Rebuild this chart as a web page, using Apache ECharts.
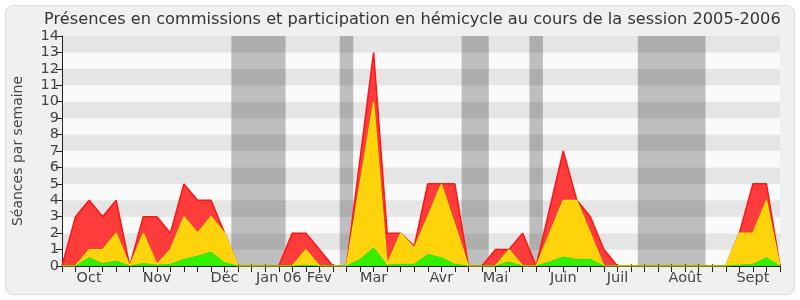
<!DOCTYPE html>
<html><head><meta charset="utf-8">
<script src="https://cdn.jsdelivr.net/npm/echarts@6/dist/echarts.min.js"></script>
<style>
html,body{margin:0;padding:0;background:#fff;}
#frame{position:absolute;left:5px;top:5px;width:788px;height:288px;background:#f0f0f0;border:1px solid #dcdcdc;border-radius:8px;}
#chart{position:absolute;left:0;top:0;width:800px;height:300px;}
</style>
</head><body><div id="frame"></div><div id="chart"></div>
<script>
// week index 0..53 (session 2005-2006)
const weekCount = 54;
const totalSeances = [0,3,4,3,4,0,3,3,2,5,4,4,2,0,0,0,0,2,2,1,0,0,6.5,13,2,2,1.2,5,5,5,0,0,1,1,2,0,3.5,7,4,3,1,0,0,0,0,0,0,0,0,0,2,5,5,0];
const hemicycle    = [0,0,1,1,2,0,2,0.1,1,3,2,3,2,0,0,0,0,0,1,0,0,0,5,10,0.1,2,1.1,3,5,2.5,0,0,0,1,0,0,2,4,4,2,0,0,0,0,0,0,0,0,0,0,2,2,4,0];
const commissions  = [0,0,0.5,0.15,0.3,0,0.15,0.05,0.1,0.4,0.6,0.85,0.2,0,0,0,0,0,0.05,0,0,0,0.4,1.1,0.05,0.1,0.1,0.7,0.5,0.1,0,0,0,0.25,0,0,0.25,0.55,0.4,0.4,0,0,0,0,0,0,0,0,0,0,0.05,0.1,0.5,0];
const tickWeeks  = [2,7,12,16,19,23,28,32,37,41,46,51];
const tickLabels = ['Oct','Nov','Déc','Jan 06','Fév','Mar','Avr','Mai','Juin','Juil','Août','Sept'];
const holidayStart = [12.5,20.5,29.5,34.5,42.5];
const holidayEnd   = [16.5,21.5,31.5,35.5,47.5];

const toPairs = arr => arr.map((v,i)=>[i,v]);
const font = 'DejaVu Sans';
const chart = echarts.init(document.getElementById('chart'));
chart.setOption({
  animation:false,
  textStyle:{fontFamily:font},
  title:{text:'Présences en commissions et participation en hémicycle au cours de la session 2005-2006',
    left:39, top:7, textStyle:{fontFamily:font,fontSize:16.2,fontWeight:'normal',color:'#333'}},
  grid:{left:62,right:20,top:36,bottom:34,containLabel:false,outerBoundsMode:'none'},
  xAxis:[{type:'value',min:0,max:weekCount-1,interval:1,
    axisLine:{show:true,onZero:false,lineStyle:{color:'#222'}},
    axisTick:{show:true,length:6,lineStyle:{color:'#222'}},
    splitLine:{show:false},
    axisLabel:{fontFamily:font,fontSize:14.5,color:'#444',margin:5,
      formatter:v=>{const k=tickWeeks.indexOf(v);return k>=0?tickLabels[k]:'';}}
  },{type:'value',min:0,max:weekCount-1,interval:1,position:'top',
    axisLine:{show:false},axisTick:{show:true,length:2,lineStyle:{color:'#444'}},
    axisLabel:{show:false},splitLine:{show:false}}],
  yAxis:{type:'value',min:0,max:14,interval:1,
    name:'Séances par semaine',nameLocation:'middle',nameGap:37,
    nameTextStyle:{fontFamily:font,fontSize:14,color:'#444'},
    axisLine:{show:true,lineStyle:{color:'#222'}},
    axisTick:{show:true,length:6,lineStyle:{color:'#222'}},
    axisLabel:{fontFamily:font,fontSize:14.5,color:'#444',margin:3},
    splitLine:{show:false},
    splitArea:{show:true,areaStyle:{color:['#fafafa','#e5e5e5']}}},
  series:[
    {type:'line',data:[],z:1,silent:true,
     markArea:{silent:true,itemStyle:{color:'rgba(0,0,0,0.24)'},
       data:holidayStart.map((s,k)=>[{xAxis:s},{xAxis:holidayEnd[k]}])}},
    {type:'line',name:'total',data:toPairs(totalSeances),symbol:'none',z:2,
     lineStyle:{color:'#ff1414',width:1.5},areaStyle:{color:'#ff3c3c',opacity:1}},
    {type:'line',name:'hemicycle',data:toPairs(hemicycle),symbol:'none',z:3,
     lineStyle:{color:'#ffe800',width:1.2},areaStyle:{color:'#ffd30c',opacity:1}},
    {type:'line',name:'commissions',data:toPairs(commissions),symbol:'none',z:4,
     lineStyle:{color:'#2ee000',width:1},areaStyle:{color:'#33f000',opacity:1}}
  ]
});
</script></body></html>
